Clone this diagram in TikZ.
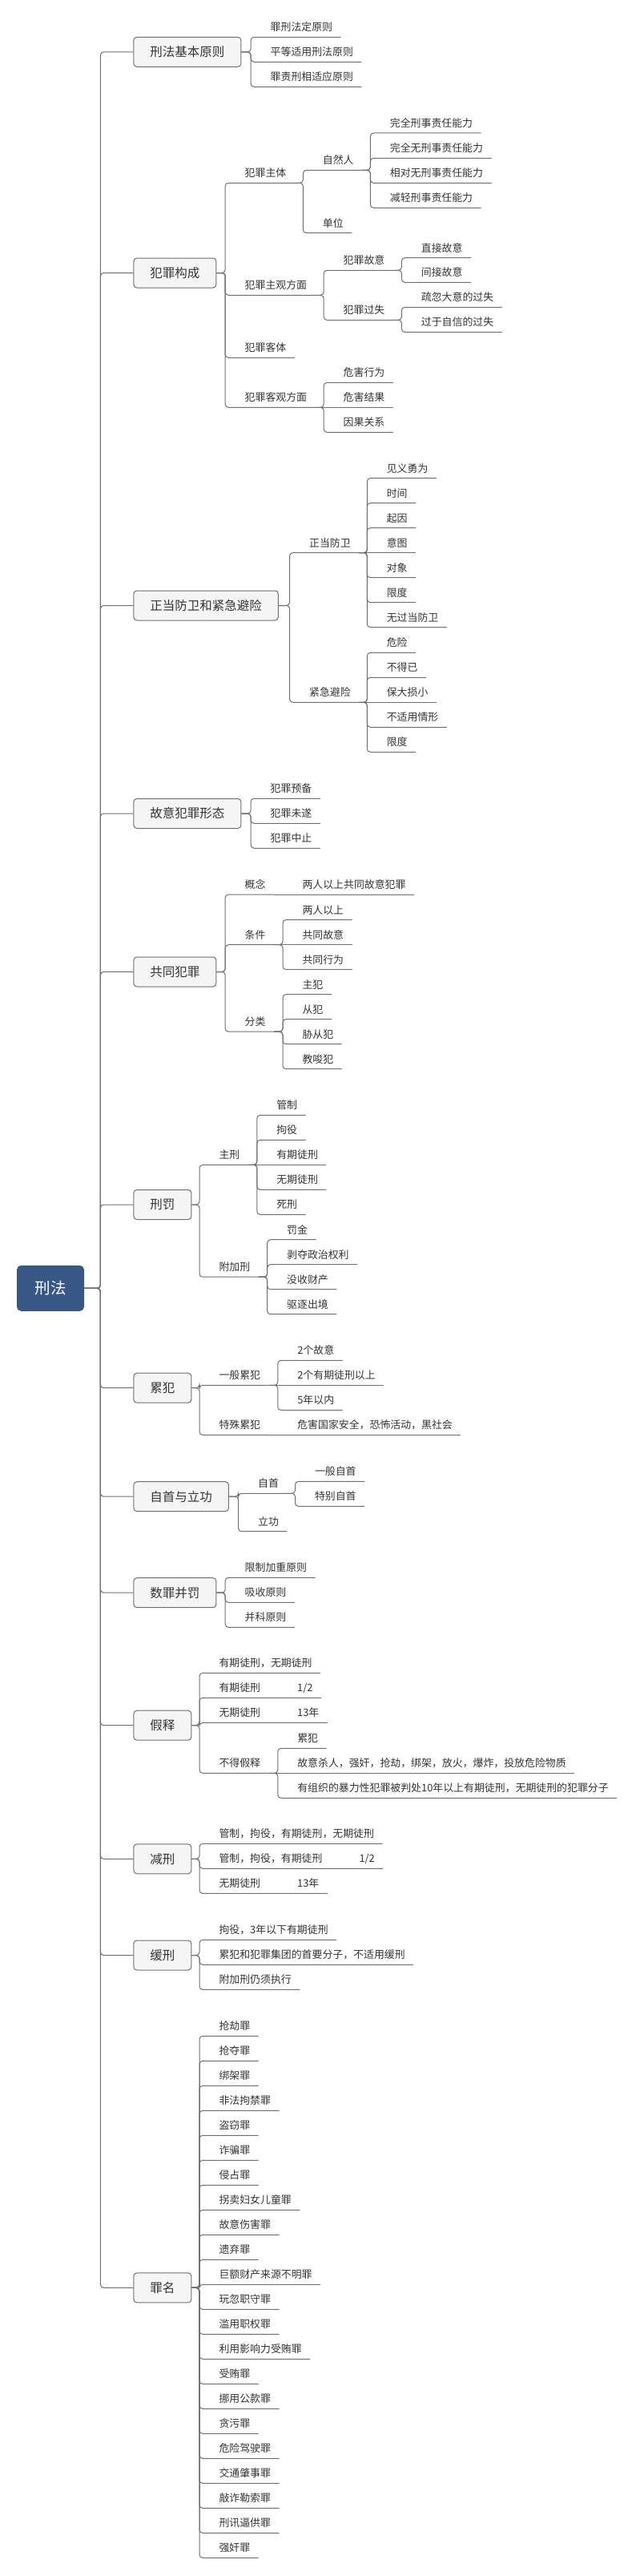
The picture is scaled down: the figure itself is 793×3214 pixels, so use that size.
\documentclass[tikz,border=0pt]{standalone}
\usepackage{fontspec}
\setmainfont{Noto Sans CJK SC}
\usepackage{xcolor}
\usepackage{tikz}
\definecolor{rootblue}{RGB}{55,87,133}
\definecolor{boxgray}{RGB}{245,245,245}
\definecolor{linegray}{RGB}{112,112,112}
\definecolor{textgray}{RGB}{51,51,51}

\begin{document}
\begin{tikzpicture}[x=1pt,y=-1pt,line width=1pt,text=textgray,font=\fontsize{12.9}{15}\selectfont]
\tikzstyle{rootbox}=[draw=rootblue,fill=rootblue,text=white,rounded corners=5pt,anchor=west,minimum width=83pt,minimum height=56pt,font=\fontsize{19.5}{22}\selectfont]
\tikzstyle{mainbox}=[draw=linegray,fill=boxgray,rounded corners=4pt,anchor=west,inner xsep=20.5pt,minimum height=37pt,font=\fontsize{15.5}{18}\selectfont]
\tikzstyle{topic}=[anchor=south west,xshift=14pt,inner xsep=10pt,inner ysep=0pt,text height=10pt,text depth=7pt]
\tikzstyle{br}=[draw=linegray,rounded corners=4pt,to path={-| ([xshift=-14pt]\tikztotarget.south west) -- (\tikztotarget.south east)}]
\tikzstyle{trunk}=[draw=linegray,rounded corners=4pt,to path={-| ([xshift=-41pt]\tikztotarget.west) -- (\tikztotarget.west)}]
\tikzstyle{link}=[draw=linegray]
\useasboundingbox (0,0) rectangle (793,3214);

\node[rootbox] (law) at (21,1607.3) {刑法};

\node[mainbox] (principle) at (166.4,64.8) {刑法基本原则};
\node[topic] (p1) at (313.2,46.3) {罪刑法定原则};
\node[topic] (p2) at (313.2,77.3) {平等适用刑法原则};
\node[topic] (p3) at (313.2,108.3) {罪责刑相适应原则};

\node[mainbox] (compose) at (166.4,340.5) {犯罪构成};
\node[topic] (subj) at (281.2,228.3) {犯罪主体};
\node[topic] (natural) at (378.4,212.3) {自然人};
\node[topic] (cap1) at (462.4,166) {完全刑事责任能力};
\node[topic] (cap2) at (462.4,197.3) {完全无刑事责任能力};
\node[topic] (cap3) at (462.4,228.3) {相对无刑事责任能力};
\node[topic] (cap4) at (462.4,259.3) {减轻刑事责任能力};
\node[topic] (unit) at (378.4,290.7) {单位};
\node[topic] (mind) at (281.2,368.3) {犯罪主观方面};
\node[topic] (intent) at (404.2,337.3) {犯罪故意};
\node[topic] (int1) at (501.4,321.7) {直接故意};
\node[topic] (int2) at (501.4,352.3) {间接故意};
\node[topic] (negl) at (404.2,399.3) {犯罪过失};
\node[topic] (neg1) at (501.4,383.3) {疏忽大意的过失};
\node[topic] (neg2) at (501.4,414.3) {过于自信的过失};
\node[topic] (object) at (281.2,446.3) {犯罪客体};
\node[topic] (act) at (281.2,508.3) {犯罪客观方面};
\node[topic] (act1) at (404.2,477.3) {危害行为};
\node[topic] (act2) at (404.2,508.3) {危害结果};
\node[topic] (act3) at (404.2,539.3) {因果关系};

\node[mainbox] (defense) at (166.4,755.5) {正当防卫和紧急避险};
\node[topic] (selfdef) at (361.6,689.7) {正当防卫};
\node[topic] (def1) at (458.3,596.7) {见义勇为};
\node[topic] (def2) at (458.3,627.7) {时间};
\node[topic] (def3) at (458.3,658.7) {起因};
\node[topic] (def4) at (458.3,689.7) {意图};
\node[topic] (def5) at (458.3,720.7) {对象};
\node[topic] (def6) at (458.3,751.7) {限度};
\node[topic] (def7) at (458.3,782.7) {无过当防卫};
\node[topic] (necess) at (361.6,876.3) {紧急避险};
\node[topic] (nec1) at (458.3,814.3) {危险};
\node[topic] (nec2) at (458.3,845.3) {不得已};
\node[topic] (nec3) at (458.3,876.3) {保大损小};
\node[topic] (nec4) at (458.3,907.3) {不适用情形};
\node[topic] (nec5) at (458.3,938.3) {限度};

\node[mainbox] (stage) at (166.4,1015) {故意犯罪形态};
\node[topic] (sta1) at (313.2,996.3) {犯罪预备};
\node[topic] (sta2) at (313.2,1027.3) {犯罪未遂};
\node[topic] (sta3) at (313.2,1058.3) {犯罪中止};

\node[mainbox] (joint) at (166.4,1212.5) {共同犯罪};
\node[topic] (concept) at (281.2,1116) {概念};
\node[topic] (con1) at (353,1116) {两人以上共同故意犯罪};
\node[topic] (cond) at (281.2,1178.7) {条件};
\node[topic] (cond1) at (353,1147.7) {两人以上};
\node[topic] (cond2) at (353,1178.7) {共同故意};
\node[topic] (cond3) at (353,1209.7) {共同行为};
\node[topic] (kind) at (281.2,1287.2) {分类};
\node[topic] (kind1) at (353,1240.7) {主犯};
\node[topic] (kind2) at (353,1271.7) {从犯};
\node[topic] (kind3) at (353,1302.7) {胁从犯};
\node[topic] (kind4) at (353,1333.7) {教唆犯};

\node[mainbox] (penalty) at (166.4,1503) {刑罚};
\node[topic] (mainpen) at (249,1453.3) {主刑};
\node[topic] (mp1) at (320.8,1391.3) {管制};
\node[topic] (mp2) at (320.8,1422.3) {拘役};
\node[topic] (mp3) at (320.8,1453.3) {有期徒刑};
\node[topic] (mp4) at (320.8,1484.3) {无期徒刑};
\node[topic] (mp5) at (320.8,1515.3) {死刑};
\node[topic] (addpen) at (249,1593.2) {附加刑};
\node[topic] (ap1) at (333.7,1546.7) {罚金};
\node[topic] (ap2) at (333.7,1577.7) {剥夺政治权利};
\node[topic] (ap3) at (333.7,1608.7) {没收财产};
\node[topic] (ap4) at (333.7,1639.7) {驱逐出境};

\node[mainbox] (recid) at (166.4,1731.7) {累犯};
\node[topic] (gen) at (249,1728.3) {一般累犯};
\node[topic] (gen1) at (346.8,1697.3) {2个故意};
\node[topic] (gen2) at (346.8,1728.3) {2个有期徒刑以上};
\node[topic] (gen3) at (346.8,1759.3) {5年以内};
\node[topic] (spec) at (249,1790.3) {特殊累犯};
\node[topic] (spec1) at (346.8,1790.3) {危害国家安全，恐怖活动，黑社会};

\node[mainbox] (surrender) at (166.4,1867.2) {自首与立功};
\node[topic] (conf) at (297.6,1863.3) {自首};
\node[topic] (conf1) at (368.5,1848.3) {一般自首};
\node[topic] (conf2) at (368.5,1879.3) {特别自首};
\node[topic] (merit) at (297.6,1910.7) {立功};

\node[mainbox] (combine) at (166.4,1987.2) {数罪并罚};
\node[topic] (com1) at (281.2,1968.3) {限制加重原则};
\node[topic] (com2) at (281.2,1999.3) {吸收原则};
\node[topic] (com3) at (281.2,2030.3) {并科原则};

\node[mainbox] (parole) at (166.4,2152.7) {假释};
\node[topic] (par1) at (249,2087.3) {有期徒刑，无期徒刑};
\node[topic] (par2) at (249,2118.3) {有期徒刑\hspace{46pt}1/2};
\node[topic] (par3) at (249,2149.3) {无期徒刑\hspace{46pt}13年};
\node[topic] (nopar) at (249,2212.3) {不得假释};
\node[topic] (np1) at (346.8,2181.3) {累犯};
\node[topic] (np2) at (346.8,2212.3) {故意杀人，强奸，抢劫，绑架，放火，爆炸，投放危险物质};
\node[topic] (np3) at (346.8,2243.3) {有组织的暴力性犯罪被判处10年以上有期徒刑，无期徒刑的犯罪分子};

\node[mainbox] (commute) at (166.4,2319.3) {减刑};
\node[topic] (cm1) at (249,2300.3) {管制，拘役，有期徒刑，无期徒刑};
\node[topic] (cm2) at (249,2331.3) {管制，拘役，有期徒刑\hspace{46pt}1/2};
\node[topic] (cm3) at (249,2362.3) {无期徒刑\hspace{46pt}13年};

\node[mainbox] (probation) at (166.4,2439.5) {缓刑};
\node[topic] (pb1) at (249,2420.3) {拘役，3年以下有期徒刑};
\node[topic] (pb2) at (249,2451.3) {累犯和犯罪集团的首要分子，不适用缓刑};
\node[topic] (pb3) at (249,2482.3) {附加刑仍须执行};

\node[mainbox] (charges) at (166.4,2854.3) {罪名};
\node[topic] (cr1) at (249,2540.3) {抢劫罪};
\node[topic] (cr2) at (249,2571.3) {抢夺罪};
\node[topic] (cr3) at (249,2602.3) {绑架罪};
\node[topic] (cr4) at (249,2633.3) {非法拘禁罪};
\node[topic] (cr5) at (249,2664.3) {盗窃罪};
\node[topic] (cr6) at (249,2695.3) {诈骗罪};
\node[topic] (cr7) at (249,2726.3) {侵占罪};
\node[topic] (cr8) at (249,2757.3) {拐卖妇女儿童罪};
\node[topic] (cr9) at (249,2788.3) {故意伤害罪};
\node[topic] (cr10) at (249,2819.3) {遗弃罪};
\node[topic] (cr11) at (249,2850.3) {巨额财产来源不明罪};
\node[topic] (cr12) at (249,2881.3) {玩忽职守罪};
\node[topic] (cr13) at (249,2912.3) {滥用职权罪};
\node[topic] (cr14) at (249,2943.3) {利用影响力受贿罪};
\node[topic] (cr15) at (249,2974.3) {受贿罪};
\node[topic] (cr16) at (249,3005.3) {挪用公款罪};
\node[topic] (cr17) at (249,3036.3) {贪污罪};
\node[topic] (cr18) at (249,3067.3) {危险驾驶罪};
\node[topic] (cr19) at (249,3098.3) {交通肇事罪};
\node[topic] (cr20) at (249,3129.3) {敲诈勒索罪};
\node[topic] (cr21) at (249,3160.3) {刑讯逼供罪};
\node[topic] (cr22) at (249,3191.3) {强奸罪};

\draw[trunk] (law.east) to (principle);
\draw[trunk] (law.east) to (compose);
\draw[trunk] (law.east) to (defense);
\draw[trunk] (law.east) to (stage);
\draw[trunk] (law.east) to (joint);
\draw[trunk] (law.east) to (penalty);
\draw[trunk] (law.east) to (recid);
\draw[trunk] (law.east) to (surrender);
\draw[trunk] (law.east) to (combine);
\draw[trunk] (law.east) to (parole);
\draw[trunk] (law.east) to (commute);
\draw[trunk] (law.east) to (probation);
\draw[trunk] (law.east) to (charges);

\draw[br] (principle.east) to (p1);
\draw[br] (principle.east) to (p2);
\draw[br] (principle.east) to (p3);

\draw[br] (compose.east) to (subj);
\draw[br] (compose.east) to (mind);
\draw[br] (compose.east) to (object);
\draw[br] (compose.east) to (act);
\draw[br] (subj.south east) to (natural);
\draw[br] (subj.south east) to (unit);
\draw[br] (natural.south east) to (cap1);
\draw[br] (natural.south east) to (cap2);
\draw[br] (natural.south east) to (cap3);
\draw[br] (natural.south east) to (cap4);
\draw[br] (mind.south east) to (intent);
\draw[br] (mind.south east) to (negl);
\draw[br] (intent.south east) to (int1);
\draw[br] (intent.south east) to (int2);
\draw[br] (negl.south east) to (neg1);
\draw[br] (negl.south east) to (neg2);
\draw[br] (act.south east) to (act1);
\draw[link] (act.south east) -- (act2.south east);
\draw[br] (act.south east) to (act3);

\draw[br] (defense.east) to (selfdef);
\draw[br] (defense.east) to (necess);
\draw[br] (selfdef.south east) to (def1);
\draw[br] (selfdef.south east) to (def2);
\draw[br] (selfdef.south east) to (def3);
\draw[link] (selfdef.south east) -- (def4.south east);
\draw[br] (selfdef.south east) to (def5);
\draw[br] (selfdef.south east) to (def6);
\draw[br] (selfdef.south east) to (def7);
\draw[br] (necess.south east) to (nec1);
\draw[br] (necess.south east) to (nec2);
\draw[link] (necess.south east) -- (nec3.south east);
\draw[br] (necess.south east) to (nec4);
\draw[br] (necess.south east) to (nec5);

\draw[br] (stage.east) to (sta1);
\draw[br] (stage.east) to (sta2);
\draw[br] (stage.east) to (sta3);

\draw[br] (joint.east) to (concept);
\draw[br] (joint.east) to (cond);
\draw[br] (joint.east) to (kind);
\draw[link] (concept.south east) -- (con1.south east);
\draw[br] (cond.south east) to (cond1);
\draw[link] (cond.south east) -- (cond2.south east);
\draw[br] (cond.south east) to (cond3);
\draw[br] (kind.south east) to (kind1);
\draw[br] (kind.south east) to (kind2);
\draw[br] (kind.south east) to (kind3);
\draw[br] (kind.south east) to (kind4);

\draw[br] (penalty.east) to (mainpen);
\draw[br] (penalty.east) to (addpen);
\draw[br] (mainpen.south east) to (mp1);
\draw[br] (mainpen.south east) to (mp2);
\draw[link] (mainpen.south east) -- (mp3.south east);
\draw[br] (mainpen.south east) to (mp4);
\draw[br] (mainpen.south east) to (mp5);
\draw[br] (addpen.south east) to (ap1);
\draw[br] (addpen.south east) to (ap2);
\draw[br] (addpen.south east) to (ap3);
\draw[br] (addpen.south east) to (ap4);

\draw[br] (recid.east) to (gen);
\draw[br] (recid.east) to (spec);
\draw[br] (gen.south east) to (gen1);
\draw[link] (gen.south east) -- (gen2.south east);
\draw[br] (gen.south east) to (gen3);
\draw[link] (spec.south east) -- (spec1.south east);

\draw[br] (surrender.east) to (conf);
\draw[br] (surrender.east) to (merit);
\draw[br] (conf.south east) to (conf1);
\draw[br] (conf.south east) to (conf2);

\draw[br] (combine.east) to (com1);
\draw[br] (combine.east) to (com2);
\draw[br] (combine.east) to (com3);

\draw[br] (parole.east) to (par1);
\draw[br] (parole.east) to (par2);
\draw[br] (parole.east) to (par3);
\draw[br] (parole.east) to (nopar);
\draw[br] (nopar.south east) to (np1);
\draw[link] (nopar.south east) -- (np2.south east);
\draw[br] (nopar.south east) to (np3);

\draw[br] (commute.east) to (cm1);
\draw[br] (commute.east) to (cm2);
\draw[br] (commute.east) to (cm3);

\draw[br] (probation.east) to (pb1);
\draw[br] (probation.east) to (pb2);
\draw[br] (probation.east) to (pb3);

\draw[br] (charges.east) to (cr1);
\draw[br] (charges.east) to (cr2);
\draw[br] (charges.east) to (cr3);
\draw[br] (charges.east) to (cr4);
\draw[br] (charges.east) to (cr5);
\draw[br] (charges.east) to (cr6);
\draw[br] (charges.east) to (cr7);
\draw[br] (charges.east) to (cr8);
\draw[br] (charges.east) to (cr9);
\draw[br] (charges.east) to (cr10);
\draw[br] (charges.east) to (cr11);
\draw[br] (charges.east) to (cr12);
\draw[br] (charges.east) to (cr13);
\draw[br] (charges.east) to (cr14);
\draw[br] (charges.east) to (cr15);
\draw[br] (charges.east) to (cr16);
\draw[br] (charges.east) to (cr17);
\draw[br] (charges.east) to (cr18);
\draw[br] (charges.east) to (cr19);
\draw[br] (charges.east) to (cr20);
\draw[br] (charges.east) to (cr21);
\draw[br] (charges.east) to (cr22);
\end{tikzpicture}
\end{document}
